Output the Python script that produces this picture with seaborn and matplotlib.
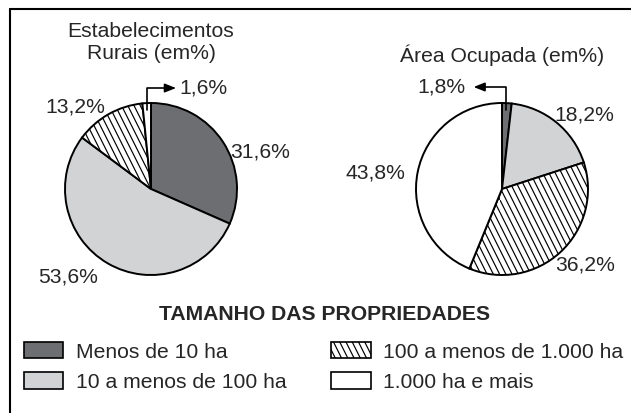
import numpy as np
import matplotlib
matplotlib.use("Agg")
import matplotlib.pyplot as plt
import seaborn as sns
from matplotlib import hatch as mhatch
from matplotlib.path import Path
from matplotlib.patches import Patch
from matplotlib.lines import Line2D

# 데이터
CATEGORIES = ["Menos de 10 ha", "10 a menos de 100 ha",
              "100 a menos de 1.000 ha", "1.000 ha e mais"]
ESTAB_VALUES = [31.6, 53.6, 13.2, 1.6]
AREA_VALUES = [1.8, 18.2, 36.2, 43.8]
ESTAB_LABELS = ["31,6%", "53,6%", "13,2%", "1,6%"]
AREA_LABELS = ["1,8%", "18,2%", "36,2%", "43,8%"]
ESTAB_TITLE = "Estabelecimentos\nRurais (em%)"
AREA_TITLE = "Área Ocupada (em%)"
LEGEND_TITLE = "TAMANHO DAS PROPRIEDADES"

COLORS = ["#6d6e71", "#d1d3d4", "white", "white"]
HATCHES = [None, None, "\\", None]


class SteepHatch(mhatch.HatchPatternBase):
    """'\\' 해칭을 더 가파른 기울기(2:1)로 대체"""
    M = 8

    def __init__(self, hatch, density):
        n = hatch.count("\\")
        self.segs = []
        if n:
            for k in range(3 * self.M + 1):
                c = k / self.M
                x0, x1 = max(0.0, (c - 1) / 2), min(1.0, c / 2)
                if x1 > x0:
                    self.segs.append(((x0, c - 2 * x0), (x1, c - 2 * x1)))
        self.num_vertices = 2 * len(self.segs)

    def set_vertices_and_codes(self, vertices, codes):
        for i, (a, b) in enumerate(self.segs):
            vertices[2 * i] = a
            vertices[2 * i + 1] = b
            codes[2 * i] = Path.MOVETO
            codes[2 * i + 1] = Path.LINETO


mhatch._hatch_types = [t for t in mhatch._hatch_types
                       if t is not mhatch.SouthEastHatch] + [SteepHatch]

# 설정
sns.set_theme(style="white")
plt.rcParams["font.family"] = ["Liberation Sans", "DejaVu Sans"]
plt.rcParams["hatch.color"] = "black"
plt.rcParams["hatch.linewidth"] = 0.85
FS = 15.2

W, H = 631, 413
fig = plt.figure(figsize=(W / 100, H / 100), dpi=100)
fig.patch.set_facecolor("white")


def pie_axes(cx, cy, r):
    # 픽셀 중심/반지름 -> figure axes
    ax = fig.add_axes([(cx - r) / W, (H - cy - r) / H, 2 * r / W, 2 * r / H])
    ax.set_axis_off()
    return ax


def draw_pie(ax, values, small_idx):
    wedges, _ = ax.pie(values, colors=COLORS, startangle=90, counterclock=False,
                       radius=1, wedgeprops=dict(edgecolor="black", linewidth=1.4))
    for w, h in zip(wedges, HATCHES):
        if h:
            w.set_hatch(h)
    ax.set_xlim(-1, 1)
    ax.set_ylim(-1, 1)
    ax.set_aspect("equal")
    # 작은 조각의 중간 각도
    cum = np.cumsum(values)
    mid = np.deg2rad(90 - 360 * (cum[small_idx] - values[small_idx] / 2) / 100)
    return np.cos(mid) * 0.92, np.sin(mid) * 0.92


def pointer(ax, start, end):
    ax.annotate("", xy=end, xytext=start, annotation_clip=False,
                arrowprops=dict(arrowstyle="-|>,head_length=0.55,head_width=0.22",
                                color="black", lw=1.2, shrinkA=0, shrinkB=0,
                                connectionstyle="angle,angleA=90,angleB=0,rad=0"))


ax1 = pie_axes(151, 189, 86)
ax2 = pie_axes(502, 189, 86)

p1 = draw_pie(ax1, ESTAB_VALUES, 3)
pointer(ax1, p1, (0.29, 1.174))
ax1.text(0.326, 1.174, ESTAB_LABELS[3], ha="left", va="center", fontsize=FS)
ax1.text(1.267, 0.43, ESTAB_LABELS[0], ha="center", va="center", fontsize=FS)
ax1.text(-0.965, -1.023, ESTAB_LABELS[1], ha="center", va="center", fontsize=FS)
ax1.text(-0.884, 0.953, ESTAB_LABELS[2], ha="center", va="center", fontsize=FS)
ax1.text(0, 1.70, ESTAB_TITLE, ha="center", va="center", fontsize=FS,
         linespacing=1.2)

p2 = draw_pie(ax2, AREA_VALUES, 0)
pointer(ax2, p2, (-0.33, 1.186))
ax2.text(-0.43, 1.186, AREA_LABELS[0], ha="right", va="center", fontsize=FS)
ax2.text(0.953, 0.86, AREA_LABELS[1], ha="center", va="center", fontsize=FS)
ax2.text(0.965, -0.884, AREA_LABELS[2], ha="center", va="center", fontsize=FS)
ax2.text(-1.477, 0.186, AREA_LABELS[3], ha="center", va="center", fontsize=FS)
ax2.text(0, 1.558, AREA_TITLE, ha="center", va="center", fontsize=FS)

# 범례
fig.text(325 / W, 1 - 315 / H, LEGEND_TITLE, ha="center", va="center",
         fontsize=FS, fontweight="bold")
handles = [Patch(facecolor=c, edgecolor="black", hatch=h, linewidth=1.2)
           for c, h in zip(COLORS, HATCHES)]
fig.legend(handles, CATEGORIES, ncol=2, loc="upper left",
           bbox_to_anchor=(24 / W, 1 - 342 / H), frameon=False, fontsize=FS,
           handlelength=1.87, handleheight=0.82, handletextpad=0.6,
           columnspacing=2.1, labelspacing=0.5, borderpad=0, borderaxespad=0)

# 테두리 (왼쪽, 위)
fig.add_artist(Line2D([9.5 / W, 9.5 / W], [0, 1 - 8.5 / H], color="black",
                      lw=1.5, transform=fig.transFigure))
fig.add_artist(Line2D([9.5 / W, 1], [1 - 8.5 / H, 1 - 8.5 / H], color="black",
                      lw=1.5, transform=fig.transFigure))

fig.savefig("out.png", dpi=100)
